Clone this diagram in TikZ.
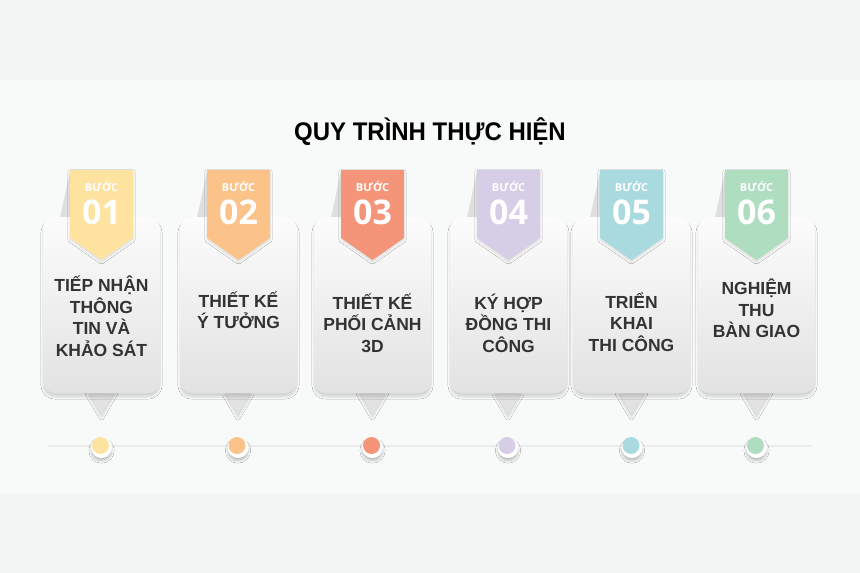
\documentclass[tikz,border=0pt]{standalone}
\usepackage{fontspec}
\setmainfont{Liberation Sans}
\newfontfamily\titlefont[FakeStretch=0.94]{Liberation Sans}
\newfontfamily\ribbonfont{Open Sans}
\usepackage{xcolor}
\usetikzlibrary{shadows, shadows.blur}

\definecolor{bgband}{HTML}{F3F4F4}
\definecolor{bgmain}{HTML}{F8F9F9}
\definecolor{cardtop}{HTML}{FCFCFC}
\definecolor{cardbot}{HTML}{E2E2E2}
\definecolor{txtgray}{HTML}{333333}
\definecolor{stepA}{HTML}{FDE2A0}
\definecolor{stepB}{HTML}{FBC38A}
\definecolor{stepC}{HTML}{F4957A}
\definecolor{stepD}{HTML}{D6CDE6}
\definecolor{stepE}{HTML}{A8DADF}
\definecolor{stepF}{HTML}{AFDDBF}

\begin{document}
\begin{tikzpicture}[x=1pt, y=-1pt,
    card/.style={rounded corners=12pt, top color=cardtop, bottom color=cardbot,
        blur shadow={shadow xshift=0pt, shadow yshift=-4pt, shadow opacity=14, shadow blur steps=6}},
    pointer/.style={fill=cardbot,
        blur shadow={shadow xshift=0pt, shadow yshift=-4pt, shadow opacity=14, shadow blur steps=6}},
    fold/.style={fill=gray!25},
    ribbon/.style={blur shadow={shadow xshift=0pt, shadow yshift=-2pt, shadow opacity=10, shadow blur steps=4}},
    steplabel/.style={text=white, font=\ribbonfont\bfseries\fontsize{11}{11}\selectfont},
    stepnum/.style={text=white, font=\ribbonfont\bfseries\fontsize{34}{34}\selectfont},
    cardtext/.style={text=txtgray, align=center, font=\bfseries\fontsize{17.5}{21.5}\selectfont},
    dotring/.style={fill=white, blur shadow={shadow xshift=0pt, shadow yshift=-3pt, shadow opacity=22, shadow blur steps=5}}]

    % Hintergrund
    \fill[bgband] (0,0) rectangle (860,573);
    \fill[bgmain] (0,80) rectangle (860,493);
    \useasboundingbox (0,0) rectangle (860,573);

    % Titel
    \node[font=\titlefont\bfseries\fontsize{25.5}{25.5}\selectfont] (title) at (430,132) {QUY TRÌNH THỰC HIỆN};

    % Zeitleiste
    \coordinate (lineL) at (48,446);
    \coordinate (lineR) at (812,446);
    \draw[line width=1.2pt, gray!15] (lineL) -- (lineR);

    % Schritt 01
    \fill[fold] (70,172) -- (70,222) -- (59,222) -- cycle;
    \fill[pointer] (87.5,390) -- (101.5,414) -- (115.5,390) -- cycle;
    \path[card] (43,217) rectangle (160,393);
    \fill[stepA, ribbon] (70,170) -- (133,170) -- (133,238) -- (101.5,260) -- (70,238) -- cycle;
    \node[steplabel] (lbl1) at (101.5,186) {BƯỚC};
    \node[stepnum] (num1) at (101.5,212) {01};
    \node[cardtext] (txt1) at (101.5,316) {TIẾP NHẬN\\THÔNG\\TIN VÀ\\KHẢO SÁT};

    % Schritt 02
    \fill[fold] (207,172) -- (207,222) -- (196,222) -- cycle;
    \fill[pointer] (224,390) -- (238,414) -- (252,390) -- cycle;
    \path[card] (180,217) rectangle (297,393);
    \fill[stepB, ribbon] (207,170) -- (270,170) -- (270,238) -- (238.5,260) -- (207,238) -- cycle;
    \node[steplabel] (lbl2) at (238.5,186) {BƯỚC};
    \node[stepnum] (num2) at (238.5,212) {02};
    \node[cardtext] (txt2) at (238.5,310) {THIẾT KẾ\\Ý TƯỞNG};

    % Schritt 03
    \fill[fold] (341,172) -- (341,222) -- (330,222) -- cycle;
    \fill[pointer] (358.5,390) -- (372.5,414) -- (386.5,390) -- cycle;
    \path[card] (314,217) rectangle (431,393);
    \fill[stepC, ribbon] (341,170) -- (404,170) -- (404,238) -- (372.5,260) -- (341,238) -- cycle;
    \node[steplabel] (lbl3) at (372.5,186) {BƯỚC};
    \node[stepnum] (num3) at (372.5,212) {03};
    \node[cardtext] (txt3) at (372.5,323) {THIẾT KẾ\\PHỐI CẢNH\\3D};

    % Schritt 04
    \fill[fold] (477,172) -- (477,222) -- (466,222) -- cycle;
    \fill[pointer] (494,390) -- (508,414) -- (522,390) -- cycle;
    \path[card] (450,217) rectangle (567,393);
    \fill[stepD, ribbon] (477,170) -- (540,170) -- (540,238) -- (508.5,260) -- (477,238) -- cycle;
    \node[steplabel] (lbl4) at (508.5,186) {BƯỚC};
    \node[stepnum] (num4) at (508.5,212) {04};
    \node[cardtext] (txt4) at (508.5,323) {KÝ HỢP\\ĐỒNG THI\\CÔNG};

    % Schritt 05
    \fill[fold] (600,172) -- (600,222) -- (589,222) -- cycle;
    \fill[pointer] (617.5,390) -- (631.5,414) -- (645.5,390) -- cycle;
    \path[card] (573,217) rectangle (690,393);
    \fill[stepE, ribbon] (600,170) -- (663,170) -- (663,238) -- (631.5,260) -- (600,238) -- cycle;
    \node[steplabel] (lbl5) at (631.5,186) {BƯỚC};
    \node[stepnum] (num5) at (631.5,212) {05};
    \node[cardtext] (txt5) at (631.5,322) {TRIỂN\\KHAI\\THI CÔNG};

    % Schritt 06
    \fill[fold] (725,172) -- (725,222) -- (714,222) -- cycle;
    \fill[pointer] (742.5,390) -- (756.5,414) -- (770.5,390) -- cycle;
    \path[card] (698,217) rectangle (815,393);
    \fill[stepF, ribbon] (725,170) -- (788,170) -- (788,238) -- (756.5,260) -- (725,238) -- cycle;
    \node[steplabel] (lbl6) at (756.5,186) {BƯỚC};
    \node[stepnum] (num6) at (756.5,212) {06};
    \node[cardtext] (txt6) at (756.5,308.5) {NGHIỆM\\THU\\BÀN GIAO};

    % Punkte
    \fill[dotring] (101.5,447.5) circle (10.5);
    \fill[stepA] (100.5,445.5) circle (8.5);
    \fill[dotring] (238,447.5) circle (10.5);
    \fill[stepB] (237,445.5) circle (8.5);
    \fill[dotring] (372.5,447.5) circle (10.5);
    \fill[stepC] (371.5,445.5) circle (8.5);
    \fill[dotring] (508,447.5) circle (10.5);
    \fill[stepD] (507,445.5) circle (8.5);
    \fill[dotring] (632,447.5) circle (10.5);
    \fill[stepE] (631,445.5) circle (8.5);
    \fill[dotring] (756.5,447.5) circle (10.5);
    \fill[stepF] (755.5,445.5) circle (8.5);
\end{tikzpicture}
\end{document}
